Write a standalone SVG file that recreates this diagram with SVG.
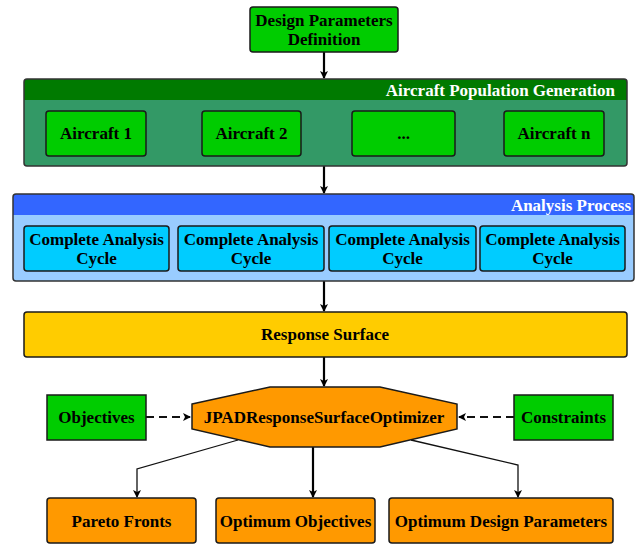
<svg xmlns="http://www.w3.org/2000/svg" width="638" height="545" viewBox="0 0 638 545">
<defs>
<style>
text{font-family:'Liberation Serif','DejaVu Serif',serif;font-weight:700;font-size:17px;text-anchor:middle;fill:#000}
.title{fill:#fff;text-anchor:end}
.box{stroke:#1a1a1a;stroke-width:1.5}
.green{fill:#00CC00}
.cyan{fill:#00CCFF}
.orange{fill:#FF9900}
.yellow{fill:#FFCC00}
.main{stroke:#000;stroke-width:2.2;fill:none}
.thin{stroke:#111;stroke-width:1.3;fill:none}
.dash{stroke:#111;stroke-width:2;stroke-dasharray:8 5;fill:none}
</style>
<marker id="ah" markerWidth="8" markerHeight="8" refX="7" refY="4" orient="auto" markerUnits="userSpaceOnUse">
<path d="M0,0 L8,4 L0,8 L2,4 Z" fill="#000"/>
</marker>
</defs>

<g id="connectors">
<line class="main" x1="324" y1="52" x2="324" y2="78" marker-end="url(#ah)"/>
<line class="main" x1="324" y1="166" x2="324" y2="193" marker-end="url(#ah)"/>
<line class="main" x1="324" y1="281" x2="324" y2="311" marker-end="url(#ah)"/>
<line class="main" x1="324" y1="357" x2="324" y2="386" marker-end="url(#ah)"/>
<line class="dash" x1="146" y1="417" x2="190" y2="417" marker-end="url(#ah)"/>
<line class="dash" x1="514" y1="417" x2="459" y2="417" marker-end="url(#ah)"/>
<polyline class="thin" points="238,440 137,469 137,497" marker-end="url(#ah)"/>
<line class="main" x1="313" y1="447" x2="313" y2="497" marker-end="url(#ah)"/>
<polyline class="thin" points="411,440 518,465 518,497" marker-end="url(#ah)"/>
</g>

<g font-family="Liberation Serif, serif">
<g id="design-parameters">
<rect class="box green" x="250" y="7" width="148" height="45" rx="3"/>
<text x="324" y="26">Design Parameters</text>
<text x="324" y="45">Definition</text>
</g>

<g id="aircraft-population">
<rect x="24" y="79" width="603" height="87" rx="3" fill="#339966"/>
<path d="M24,100 V82 a3,3 0 0 1 3,-3 H624 a3,3 0 0 1 3,3 V100 Z" fill="#007A00"/>
<rect x="24" y="79" width="603" height="87" rx="3" fill="none" stroke="#333" stroke-width="1.5"/>
<text class="title" x="615" y="96">Aircraft Population Generation</text>
</g>
<g id="aircraft-1"><rect class="box green" x="46" y="111" width="100" height="45" rx="3"/><text x="96" y="139">Aircraft 1</text></g>
<g id="aircraft-2"><rect class="box green" x="202" y="111" width="99" height="45" rx="3"/><text x="251.5" y="139">Aircraft 2</text></g>
<g id="aircraft-dots"><rect class="box green" x="352" y="111" width="103" height="45" rx="3"/><text x="403.5" y="139">...</text></g>
<g id="aircraft-n"><rect class="box green" x="504" y="111" width="100" height="45" rx="3"/><text x="554" y="139">Aircraft n</text></g>

<g id="analysis-process">
<rect x="13" y="194" width="621" height="87" rx="3" fill="#99CCFF"/>
<path d="M13,215 V197 a3,3 0 0 1 3,-3 H631 a3,3 0 0 1 3,3 V215 Z" fill="#3366FF"/>
<rect x="13" y="194" width="621" height="87" rx="3" fill="none" stroke="#333" stroke-width="1.5"/>
<text class="title" x="631" y="211">Analysis Process</text>
</g>
<g id="cycle-1"><rect class="box cyan" x="24" y="226" width="145" height="45" rx="3"/><text x="96.5" y="245">Complete Analysis</text><text x="96.5" y="264">Cycle</text></g>
<g id="cycle-2"><rect class="box cyan" x="178" y="226" width="146" height="45" rx="3"/><text x="251" y="245">Complete Analysis</text><text x="251" y="264">Cycle</text></g>
<g id="cycle-3"><rect class="box cyan" x="329" y="226" width="147" height="45" rx="3"/><text x="402.5" y="245">Complete Analysis</text><text x="402.5" y="264">Cycle</text></g>
<g id="cycle-4"><rect class="box cyan" x="480" y="226" width="145" height="45" rx="3"/><text x="552.5" y="245">Complete Analysis</text><text x="552.5" y="264">Cycle</text></g>

<g id="response-surface"><rect class="box yellow" x="24" y="312" width="603" height="45" rx="3"/><text x="325" y="340">Response Surface</text></g>

<g id="objectives"><rect class="box green" x="47" y="395" width="99" height="45"/><text x="96.5" y="423">Objectives</text></g>
<g id="constraints"><rect class="box green" x="514" y="395" width="99" height="45"/><text x="563.5" y="423">Constraints</text></g>

<g id="optimizer"><polygon class="box orange" points="192,404 270,387 380,387 457,404 457,429 380,447 270,447 192,429"/><text x="324" y="423">JPADResponseSurfaceOptimizer</text></g>

<g id="pareto-fronts"><rect class="box orange" x="47" y="498" width="149" height="45" rx="3"/><text x="121.5" y="527">Pareto Fronts</text></g>
<g id="optimum-objectives"><rect class="box orange" x="216" y="498" width="159" height="45" rx="3"/><text x="295.5" y="527">Optimum Objectives</text></g>
<g id="optimum-design-parameters"><rect class="box orange" x="389" y="498" width="224" height="45" rx="3"/><text x="501" y="527">Optimum Design Parameters</text></g>
</g>
</svg>
